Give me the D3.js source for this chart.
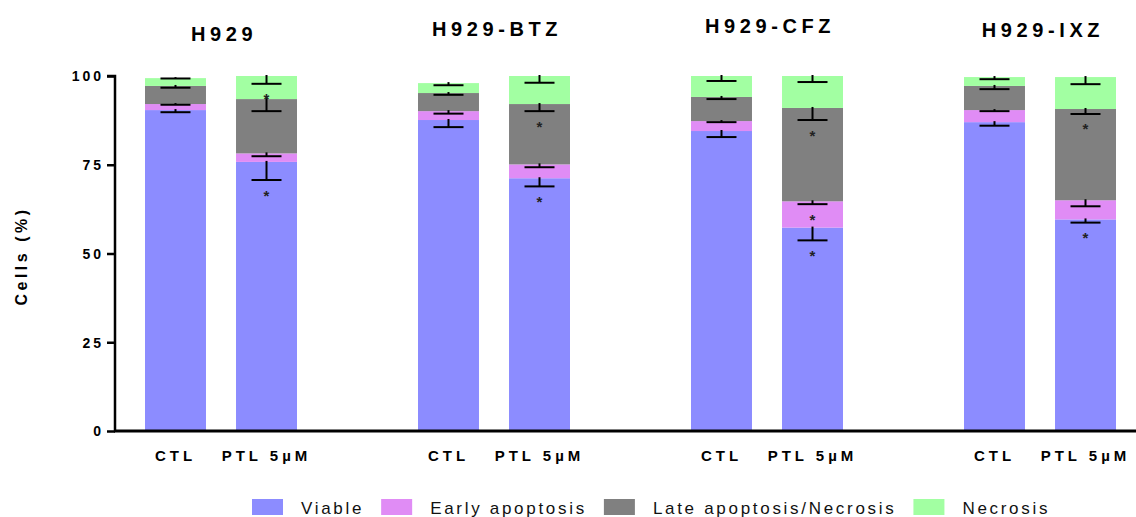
<!DOCTYPE html>
<html>
<head>
<meta charset="utf-8">
<script src="https://cdn.jsdelivr.net/npm/d3@7"></script>
<style>
  html, body { margin: 0; padding: 0; background: #fff; }
  svg { display: block; font-family: "Liberation Sans", Arial, sans-serif; }
</style>
</head>
<body>
<svg id="chart" width="1136" height="517"></svg>
<script>
// Cell lines (panels) and treatments within each panel
const groups = ["H929", "H929-BTZ", "H929-CFZ", "H929-IXZ"];
const conditions = ["CTL", "PTL 5µM"];
const seriesNames = ["Viable", "Early apoptosis", "Late apoptosis/Necrosis", "Necrosis"];
const yTicks = [0, 25, 50, 75, 100];

// Segment means (%), order: H929 CTL, H929 PTL, BTZ CTL, BTZ PTL, CFZ CTL, CFZ PTL, IXZ CTL, IXZ PTL
const viable    = [90.4, 75.8, 87.6, 71.2, 84.5, 57.3, 87.0, 59.6];
const early     = [1.7, 2.4, 2.5, 3.9, 2.8, 7.4, 3.4, 5.4];
const late      = [5.1, 15.3, 5.1, 17.0, 6.8, 26.3, 6.8, 25.7];
const necrosis  = [2.2, 6.5, 2.8, 7.9, 5.9, 9.0, 2.5, 9.0];

// Standard deviations for each segment
const viableSD   = [0.6, 5.1, 2.0, 2.3, 1.7, 3.6, 1.0, 0.9];
const earlySD    = [0.2, 0.8, 0.7, 0.8, 0.3, 0.8, 0.3, 1.7];
const lateSD     = [0.5, 3.4, 0.5, 2.0, 0.6, 3.4, 0.9, 1.4];
const necrosisSD = [0.1, 2.2, 0.6, 1.9, 1.4, 1.7, 0.6, 2.0];

// Significance flags (1 = marked with *)
const viableSig   = [0, 1, 0, 1, 0, 1, 0, 1];
const earlySig    = [0, 0, 0, 0, 0, 1, 0, 0];
const lateSig     = [0, 0, 0, 1, 0, 1, 0, 1];
const necrosisSig = [0, 1, 0, 0, 0, 0, 0, 0];

const colors = ["#8c8cff", "#e08cf5", "#808080", "#a2ffa2"];

// Layout
const svg = d3.select("#chart");
const axisX = 115, axisY0 = 431, axisY100 = 76, axisRight = 1136;
const titleBaseline = [41, 36, 33, 37];

const y = d3.scaleLinear().domain([0, 100]).range([axisY0, axisY100]);
const xGroup = d3.scalePoint().domain(groups).range([221, 1040]);
const xCond = d3.scaleBand().domain(conditions).range([-76, 76]).paddingInner(0.33);

const means = [viable, early, late, necrosis];
const sds = [viableSD, earlySD, lateSD, necrosisSD];
const sigs = [viableSig, earlySig, lateSig, necrosisSig];

// Build per-bar records with stacked segments
const bars = [];
groups.forEach((g, gi) => {
  conditions.forEach((c, ci) => {
    const idx = gi * conditions.length + ci;
    let base = 0;
    const segs = seriesNames.map((s, si) => {
      const v = means[si][idx];
      const seg = { series: si, y0: base, y1: base + v, sd: sds[si][idx], sig: sigs[si][idx] };
      base += v;
      return seg;
    });
    bars.push({ group: g, cond: c, segs });
  });
});

const barX = d => xGroup(d.group) + xCond(d.cond);
const bw = xCond.bandwidth();

// Stacked bars
const barG = svg.append("g");
bars.forEach(b => {
  barG.selectAll(null)
    .data(b.segs)
    .join("rect")
    .attr("x", barX(b))
    .attr("width", bw)
    .attr("y", d => y(d.y1))
    .attr("height", d => y(d.y0) - y(d.y1))
    .attr("fill", d => colors[d.series]);
});

// Error bars (drawn downward from each segment top) and significance marks
const errG = svg.append("g").attr("stroke", "#000").attr("stroke-width", 2);
const capHalf = 15;
bars.forEach(b => {
  const cx = barX(b) + bw / 2;
  b.segs.forEach(s => {
    const yt = y(s.y1), yb = y(s.y1 - s.sd);
    errG.append("line").attr("x1", cx).attr("x2", cx).attr("y1", yt - 1).attr("y2", yb);
    errG.append("line").attr("x1", cx - capHalf).attr("x2", cx + capHalf).attr("y1", yb).attr("y2", yb);
    if (s.sig) {
      svg.append("text")
        .attr("x", cx)
        .attr("y", yb + 12 + 8.5)
        .attr("text-anchor", "middle")
        .attr("font-size", 15)
        .attr("font-weight", "bold")
        .attr("fill", "#222")
        .text("*");
    }
  });
});

// Y axis
const yAxis = d3.axisLeft(y).tickValues(yTicks).tickSize(8).tickPadding(3);
const yg = svg.append("g").attr("transform", `translate(${axisX},0)`).call(yAxis);
yg.select(".domain").attr("stroke", "#000").attr("stroke-width", 2.5).attr("d", `M-8,${axisY100}H0V${axisY0}`);
yg.selectAll(".tick line").attr("stroke", "#000").attr("stroke-width", 2.5);
yg.selectAll(".tick text")
  .attr("font-family", "'Liberation Sans', Arial, sans-serif")
  .attr("font-size", 14).attr("font-weight", "bold")
  .attr("letter-spacing", "3px").attr("fill", "#000")
  .attr("dy", "0.35em");

// X axis line
svg.append("line")
  .attr("x1", axisX - 1).attr("x2", axisRight)
  .attr("y1", axisY0).attr("y2", axisY0)
  .attr("stroke", "#000").attr("stroke-width", 3);

// Condition labels under bars
bars.forEach(b => {
  svg.append("text")
    .attr("x", barX(b) + bw / 2)
    .attr("y", 461)
    .attr("text-anchor", "middle")
    .attr("font-size", 15).attr("font-weight", "bold")
    .attr("letter-spacing", "4px")
    .text(b.cond);
});

// Panel titles
groups.forEach((g, gi) => {
  svg.append("text")
    .attr("x", xGroup(g) + 3)
    .attr("y", titleBaseline[gi])
    .attr("text-anchor", "middle")
    .attr("font-size", 20).attr("font-weight", "bold")
    .attr("letter-spacing", "4.6px")
    .text(g);
});

// Y axis title
svg.append("text")
  .attr("transform", "translate(27,256) rotate(-90)")
  .attr("text-anchor", "middle")
  .attr("font-size", 16).attr("font-weight", "bold")
  .attr("letter-spacing", "3.5px")
  .text("Cells (%)");

// Legend
const legend = svg.append("g");
let lx = 252;
seriesNames.forEach((name, i) => {
  legend.append("rect").attr("x", lx).attr("y", 499).attr("width", 31).attr("height", 16).attr("fill", colors[i]);
  const t = legend.append("text")
    .attr("x", lx + 49).attr("y", 514)
    .attr("font-size", 17).attr("letter-spacing", "2.7px")
    .attr("fill", "#111")
    .text(name);
  lx += 49 + t.node().getComputedTextLength() + 17;
});
</script>
</body>
</html>
